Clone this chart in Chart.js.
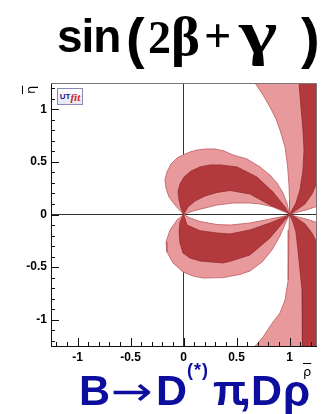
<!DOCTYPE html>
<html>
<head>
<meta charset="utf-8">
<script src="https://cdn.jsdelivr.net/npm/chart.js@4.4.1/dist/chart.umd.min.js"></script>
<style>
  body { margin: 0; background: #fff; }
  #wrap { position: relative; width: 334px; height: 414px; overflow: hidden; }
  canvas { position: absolute; left: 0; top: 0; }
  .t { position: absolute; white-space: nowrap; line-height: 1; }
  .sans { font-family: "Liberation Sans", Arial, sans-serif; font-weight: bold; }
  .serif { font-family: "Liberation Serif", "Times New Roman", serif; font-weight: bold; }
  .blue { color: #0d0d9e; }
  .logo { position: absolute; left: 57px; top: 88px; width: 24px; height: 15px;
          border: 1px solid #8a8ab8; background: linear-gradient(#ffffff, #e6e6f4);
          font-family: "Liberation Sans", Arial, sans-serif; font-size: 9px; line-height: 15px; text-align: center; }
  .logo b { color: #1a1a8a; font-size: 8px; vertical-align: 2px; }
  .logo i { color: #d02020; font-family: "Liberation Serif", serif; font-size: 11px; font-weight: bold; }
</style>
</head>
<body>
<div id="wrap">
  <canvas id="chart" width="334" height="414"></canvas>

  <div class="t sans" style="left:57px; top:13px; font-size:46px; letter-spacing:-1px;">sin</div>
  <div class="t sans" style="left:126px; top:10px; font-size:56px;">(</div>
  <div class="t serif" style="left:148px; top:15px; font-size:46px;">2</div>
  <div class="t serif" style="left:171px; top:9px; font-size:55px;">β</div>
  <div class="t serif" style="left:204px; top:12px; font-size:48px;">+</div>
  <div class="t serif" style="left:239px; top:1px; font-size:62px; transform:scaleX(1.32); transform-origin:left top;">γ</div>
  <div class="t sans" style="left:301px; top:10px; font-size:56px;">)</div>

  <div class="logo"><b>UT</b><i>fit</i></div>

  <div class="t" style="left:24px; top:94px; font-family:'DejaVu Sans',sans-serif; font-size:13px; transform:rotate(-90deg); transform-origin:left top; text-decoration:overline;">η</div>
  <div class="t" style="left:303px; top:365px; font-family:'DejaVu Sans',sans-serif; font-size:13px; text-decoration:overline;">ρ</div>

  <div class="t sans blue" style="left:79px; top:369px; font-size:43px;">B</div>
  <div class="t blue" style="left:111px; top:371px; font-size:40px; font-family:'DejaVu Sans',sans-serif; transform:scaleX(1.25); transform-origin:left top;">→</div>
  <div class="t sans blue" style="left:156px; top:369px; font-size:43px;">D</div>
  <div class="t sans blue" style="left:187px; top:361px; font-size:18px; letter-spacing:1px;">(*)</div>
  <div class="t sans blue" style="left:213px; top:369px; font-size:43px;">π</div>
  <div class="t sans blue" style="left:239px; top:369px; font-size:43px;">,</div>
  <div class="t sans blue" style="left:251px; top:369px; font-size:43px;">D</div>
  <div class="t sans blue" style="left:283px; top:369px; font-size:44px;">ρ</div>
</div>

<script>
// axis ranges and labelled ticks (rho-bar horizontal, eta-bar vertical)
const rhoRange = [-1.25, 1.25];
const etaRange = [-1.25, 1.25];
const tickValues = [-1, -0.5, 0, 0.5, 1];

// contour outlines, [rho, eta] pairs
// lobes between (0,0) and (1,0): outer edge first, then back along the inner edge
const upperLightLobe = [
  [0, 0], [-0.080, 0.090], [-0.137, 0.166], [-0.165, 0.252], [-0.175, 0.328], [-0.156, 0.404],
  [-0.118, 0.480], [-0.061, 0.537], [-0.005, 0.566], [0.061, 0.594], [0.127, 0.613], [0.212, 0.623],
  [0.297, 0.623], [0.382, 0.604], [0.467, 0.566], [0.599, 0.528], [0.722, 0.452], [0.816, 0.375],
  [0.882, 0.299], [0.939, 0.204], [0.976, 0.109], [1.0, 0],
  [0.976, 0.014], [0.844, 0.071], [0.722, 0.100], [0.627, 0.109], [0.467, 0.109], [0.316, 0.090],
  [0.203, 0.062], [0.090, 0.033], [0, 0]
];
const upperDarkLobe = [
  [0, 0], [-0.024, 0.062], [-0.042, 0.138], [-0.052, 0.214], [-0.033, 0.290], [0.005, 0.356],
  [0.071, 0.413], [0.156, 0.452], [0.250, 0.471], [0.344, 0.471], [0.505, 0.452], [0.693, 0.356],
  [0.844, 0.214], [0.958, 0.071], [1.0, 0],
  [0.976, 0.024], [0.816, 0.090], [0.627, 0.195], [0.439, 0.228], [0.316, 0.210], [0.203, 0.176],
  [0.108, 0.128], [0.042, 0.071], [0, 0]
];
const lowerLightLobe = [
  [0, 0], [-0.061, -0.052], [-0.127, -0.147], [-0.165, -0.261], [-0.156, -0.356], [-0.099, -0.461],
  [-0.005, -0.546], [0.090, -0.585], [0.184, -0.604], [0.373, -0.600], [0.533, -0.570], [0.627, -0.537],
  [0.741, -0.452], [0.835, -0.337], [0.910, -0.204], [0.967, -0.071], [1.0, 0],
  [0.976, -0.010], [0.816, -0.043], [0.627, -0.081], [0.439, -0.100], [0.316, -0.095], [0.156, -0.067],
  [0.061, -0.033], [0, 0]
];
const lowerDarkLobe = [
  [0, 0], [-0.033, -0.071], [-0.042, -0.166], [-0.033, -0.271], [-0.005, -0.366], [0.061, -0.414],
  [0.156, -0.442], [0.373, -0.461], [0.439, -0.445], [0.627, -0.385], [0.816, -0.223], [0.958, -0.052],
  [1.0, 0],
  [0.976, -0.014], [0.816, -0.081], [0.627, -0.147], [0.439, -0.185], [0.316, -0.176], [0.156, -0.154],
  [0.033, -0.100], [0, 0]
];
// bands through (1,0) running off the right and top/bottom edges
const upperLightBand = [
  [0.64, 1.35], [0.675, 1.25], [0.750, 1.136], [0.816, 1.022], [0.873, 0.908], [0.910, 0.803],
  [0.958, 0.642], [0.981, 0.471], [0.995, 0.280], [1.0, 0.138], [1.0, 0],
  [1.061, 0.019], [1.156, 0.043], [1.27, 0.081], [1.4, 0.09], [1.4, 1.4], [0.6, 1.4]
];
const upperDarkBand = [
  [1.08, 1.37], [1.09, 1.25], [1.108, 1.022], [1.127, 0.803], [1.137, 0.613], [1.127, 0.423],
  [1.099, 0.233], [1.061, 0.109], [1.024, 0.043], [1.0, 0],
  [1.052, 0.033], [1.146, 0.100], [1.212, 0.195], [1.269, 0.328], [1.4, 0.4], [1.4, 1.4], [1.08, 1.4]
];
const lowerLightBand = [
  [1.0, 0], [0.995, -0.147], [0.99, -0.337], [0.986, -0.622], [0.958, -0.813], [0.910, -0.936],
  [0.844, -1.022], [0.750, -1.165], [0.675, -1.25], [0.62, -1.35], [0.6, -1.4], [1.4, -1.4],
  [1.4, -0.09], [1.27, -0.081], [1.156, -0.043], [1.061, -0.019], [1.0, 0]
];
const lowerDarkBand = [
  [1.0, 0], [1.033, -0.071], [1.061, -0.166], [1.080, -0.337], [1.099, -0.528], [1.118, -0.718],
  [1.127, -1.003], [1.123, -1.25], [1.118, -1.4], [1.4, -1.4], [1.4, -0.3],
  [1.269, -0.29], [1.212, -0.176], [1.146, -0.090], [1.052, -0.024], [1.0, 0]
];

const LIGHT = '#e8999b';
const DARK = '#b2393c';

function region(pts, dark) {
  return {
    data: pts.map(([x, y]) => ({ x, y })),
    fill: 'shape',
    backgroundColor: dark ? DARK : LIGHT,
    borderColor: dark ? '#952c30' : '#bf5c5f',
    borderWidth: 0.8,
    pointRadius: 0,
    tension: 0,
    order: dark ? 1 : 2
  };
}

// ROOT-style ticks pointing into the frame, plus the grey top/right frame
const innerTicks = {
  id: 'innerTicks',
  afterDraw(chart) {
    const { ctx, chartArea: a, scales: { x, y } } = chart;
    ctx.save();
    ctx.lineWidth = 1;
    ctx.strokeStyle = '#777';
    ctx.beginPath();
    ctx.moveTo(a.left, a.top + 0.5); ctx.lineTo(a.right + 0.5, a.top + 0.5);
    ctx.lineTo(a.right + 0.5, a.bottom);
    ctx.stroke();
    ctx.strokeStyle = '#111';
    ctx.beginPath();
    for (let i = -12; i <= 12; i++) {
      const v = i / 10;
      const len = i % 5 === 0 ? 8 : 4;
      const px = Math.round(x.getPixelForValue(v)) + 0.5;
      ctx.moveTo(px, a.bottom); ctx.lineTo(px, a.bottom - len);
      const py = Math.round(y.getPixelForValue(v)) + 0.5;
      ctx.moveTo(a.left, py); ctx.lineTo(a.left + len, py);
    }
    ctx.stroke();
    ctx.restore();
  }
};

const zeroLine = (c) => (c.tick && c.tick.value === 0 ? '#333' : 'rgba(0,0,0,0)');
const tickFont = { family: '"Liberation Sans", Arial, sans-serif', size: 12, weight: 'bold' };
const tickText = (v) => String(v);

new Chart(document.getElementById('chart'), {
  type: 'line',
  data: {
    datasets: [
      region(upperLightLobe, false), region(lowerLightLobe, false),
      region(upperLightBand, false), region(lowerLightBand, false),
      region(upperDarkLobe, true), region(lowerDarkLobe, true),
      region(upperDarkBand, true), region(lowerDarkBand, true)
    ]
  },
  options: {
    responsive: false,
    animation: false,
    layout: { padding: { left: 0, top: 83, right: 18, bottom: 0 } },
    plugins: { legend: { display: false }, tooltip: { enabled: false } },
    scales: {
      x: {
        type: 'linear', min: rhoRange[0], max: rhoRange[1], z: 1,
        afterBuildTicks: (s) => { s.ticks = tickValues.map((v) => ({ value: v })); },
        afterFit: (s) => { s.height = 68; },
        grid: { color: zeroLine, lineWidth: 1, drawTicks: false },
        border: { color: '#111', width: 1 },
        ticks: { font: tickFont, color: '#000', padding: 4, maxRotation: 0, callback: tickText }
      },
      y: {
        type: 'linear', min: etaRange[0], max: etaRange[1], z: 1,
        afterBuildTicks: (s) => { s.ticks = tickValues.map((v) => ({ value: v })); },
        afterFit: (s) => { s.width = 51; },
        grid: { color: zeroLine, lineWidth: 1, drawTicks: false },
        border: { color: '#111', width: 1 },
        ticks: { font: tickFont, color: '#000', padding: 4, callback: tickText }
      }
    }
  },
  plugins: [innerTicks]
});
</script>
</body>
</html>
